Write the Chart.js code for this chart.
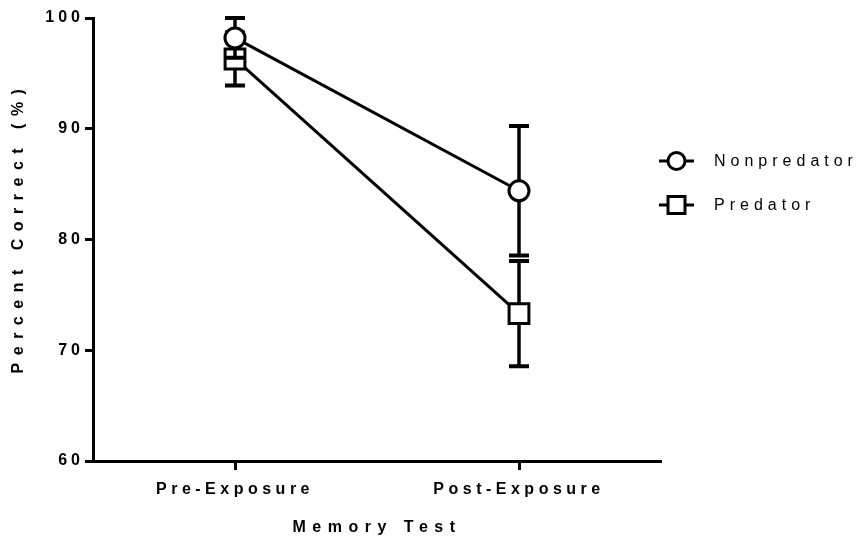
<!DOCTYPE html>
<html>
<head>
<meta charset="utf-8">
<script src="https://cdn.jsdelivr.net/npm/chart.js@4.4.1/dist/chart.umd.min.js"></script>
<style>
  html, body { margin: 0; padding: 0; background: #ffffff; }
  #wrap { width: 861px; height: 543px; position: relative; }
</style>
</head>
<body>
<div id="wrap"><canvas id="chart"></canvas></div>
<script>
// ---- Data ----
const categories = ['Pre-Exposure', 'Post-Exposure'];
const seriesNames = ['Nonpredator', 'Predator'];
const nonpredatorMean = [98.2, 84.4];
const nonpredatorErr  = [1.8, 5.85];
const predatorMean    = [96.3, 73.3];
const predatorErr     = [2.4, 4.75];
const yTickValues     = [60, 70, 80, 90, 100];
const xAxisTitle = 'Memory Test';
const yAxisTitle = 'Percent Correct (%)';

const errorsByDataset = [nonpredatorErr, predatorErr];
const markerStyles = ['circle', 'rect'];

// ---- Plugins ----
const errorBarPlugin = {
  id: 'errorBars',
  beforeDatasetDraw(chart, args) {
    const errs = errorsByDataset[args.index];
    const ds = chart.data.datasets[args.index];
    const yScale = chart.scales.y;
    const ctx = chart.ctx;
    ctx.save();
    ctx.strokeStyle = '#000';
    ctx.lineCap = 'butt';
    args.meta.data.forEach((pt, i) => {
      const v = ds.data[i], e = errs[i];
      const yT = yScale.getPixelForValue(v + e);
      const yB = yScale.getPixelForValue(v - e);
      ctx.lineWidth = 3.5;
      ctx.beginPath();
      ctx.moveTo(pt.x, yT); ctx.lineTo(pt.x, yB);
      ctx.stroke();
      ctx.lineWidth = 4;
      ctx.beginPath();
      ctx.moveTo(pt.x - 10, yT); ctx.lineTo(pt.x + 10, yT);
      ctx.moveTo(pt.x - 10, yB); ctx.lineTo(pt.x + 10, yB);
      ctx.stroke();
    });
    ctx.restore();
  }
};

const textSpacing = {
  x: { labels: '4.5px', title: '6.5px', shift: [0, 0] },
  y: { labels: '4px', title: '7.5px', shift: [0, -12] }
};
const spacingPlugin = {
  id: 'letterSpacing',
  beforeDraw(chart) {
    Object.keys(textSpacing).forEach(id => {
      const s = chart.scales[id];
      if (!s || s._spacingWrapped) return;
      const sp = textSpacing[id];
      const dl = s.drawLabels.bind(s);
      const dt = s.drawTitle.bind(s);
      s.drawLabels = function (a) { const c = this.ctx; c.save(); c.letterSpacing = sp.labels; dl(a); c.restore(); };
      s.drawTitle = function () {
        const c = this.ctx; c.save(); c.letterSpacing = sp.title;
        c.translate(sp.shift[0], sp.shift[1]); dt(); c.restore();
      };
      s._spacingWrapped = true;
    });
  }
};

const legendPlugin = {
  id: 'sideLegend',
  afterDraw(chart) {
    const ctx = chart.ctx;
    const rows = [161, 205];
    ctx.save();
    chart.data.datasets.forEach((ds, i) => {
      const y = rows[i];
      ctx.strokeStyle = '#000';
      ctx.lineWidth = 3;
      ctx.beginPath(); ctx.moveTo(659, y); ctx.lineTo(694, y); ctx.stroke();
      ctx.fillStyle = '#fff';
      ctx.lineWidth = 3;
      ctx.beginPath();
      if (markerStyles[i] === 'circle') {
        ctx.arc(676.5, y, 8.5, 0, Math.PI * 2);
      } else {
        ctx.rect(676.5 - 8.5, y - 8.5, 17, 17);
      }
      ctx.fill(); ctx.stroke();
      ctx.fillStyle = '#000';
      ctx.font = '16px "Liberation Sans", Arial, sans-serif';
      ctx.letterSpacing = '5px';
      ctx.textAlign = 'left';
      ctx.textBaseline = 'middle';
      ctx.fillText(ds.label, 714, y + 1);
      ctx.letterSpacing = '0px';
    });
    ctx.restore();
  }
};

// ---- Chart ----
const fontFamily = '"Liberation Sans", Arial, sans-serif';
new Chart(document.getElementById('chart'), {
  type: 'line',
  data: {
    labels: categories,
    datasets: [
      {
        label: seriesNames[0],
        data: nonpredatorMean,
        borderColor: '#000', borderWidth: 3,
        pointStyle: markerStyles[0], pointRadius: 10, pointHoverRadius: 10,
        pointBackgroundColor: '#fff', pointBorderColor: '#000', pointBorderWidth: 3,
        tension: 0, clip: false
      },
      {
        label: seriesNames[1],
        data: predatorMean,
        borderColor: '#000', borderWidth: 3,
        pointStyle: markerStyles[1], pointRadius: 14, pointHoverRadius: 14,
        pointBackgroundColor: '#fff', pointBorderColor: '#000', pointBorderWidth: 3,
        tension: 0, clip: false
      }
    ]
  },
  options: {
    responsive: true,
    maintainAspectRatio: false,
    animation: false,
    devicePixelRatio: 1,
    layout: { padding: { top: 18, right: 200, left: 0, bottom: 0 } },
    plugins: { legend: { display: false }, tooltip: { enabled: false } },
    events: [],
    scales: {
      x: {
        type: 'category',
        offset: true,
        grid: { drawOnChartArea: false, drawTicks: true, tickLength: 9, tickWidth: 3, color: '#000', offset: false },
        border: { display: true, width: 3, color: '#000' },
        ticks: { color: '#000', font: { family: fontFamily, size: 16, weight: 'bold' }, padding: 10, maxRotation: 0 },
        title: { display: true, text: xAxisTitle, color: '#000', font: { family: fontFamily, size: 16, weight: 'bold' }, padding: { top: 0, bottom: 6 } },
        afterFit(scale) { scale.height = 82; }
      },
      y: {
        min: 60, max: 100,
        afterBuildTicks(scale) { scale.ticks = yTickValues.map(v => ({ value: v })); },
        grid: { drawOnChartArea: false, drawTicks: true, tickLength: 8, tickWidth: 3, color: '#000' },
        border: { display: true, width: 3, color: '#000' },
        ticks: { color: '#000', font: { family: fontFamily, size: 16, weight: 'bold' }, padding: 1 },
        title: { display: true, text: yAxisTitle, color: '#000', font: { family: fontFamily, size: 16, weight: 'bold' }, padding: { top: 9, bottom: 0 } },
        afterFit(scale) { scale.width = 93; }
      }
    }
  },
  plugins: [spacingPlugin, errorBarPlugin, legendPlugin]
});
</script>
</body>
</html>
